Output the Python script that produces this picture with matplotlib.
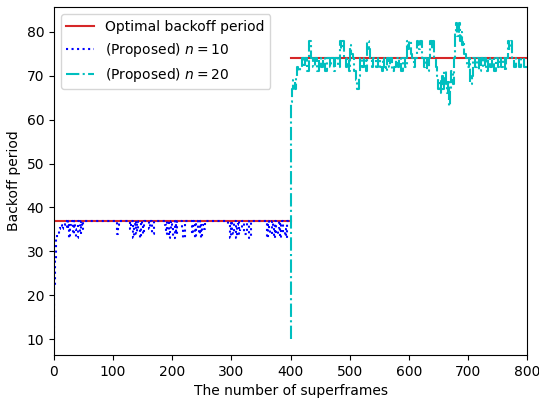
import numpy as np
import matplotlib
matplotlib.use('Agg')
import matplotlib.pyplot as plt

# Optimal backoff period (two phases)
opt_x = [0, 400, np.nan, 400, 800]
opt_y = [37, 37, np.nan, 74, 74]

# (Proposed) n = 10 : change points (superframe, backoff period)
n10_x = [0, 1, 2, 3, 4, 6, 8, 10, 13, 16, 19, 22, 24, 26, 28, 30, 32, 34, 36, 38, 40, 42, 44, 46, 48, 50,
         104, 106, 108, 110,
         129, 131, 133, 135, 137, 139, 141, 143, 145, 147, 149, 151, 153,
         160, 163, 166, 169, 172,
         188, 190, 192, 194, 196, 198, 200, 202, 204, 206, 208,
         216, 219, 222,
         233, 235, 237, 239, 241, 243, 245, 247, 249, 251, 253, 255,
         295, 297, 299, 301, 303, 305, 307, 309, 311, 313, 315, 318,
         322, 326, 330, 334,
         360, 362, 364, 366, 368, 370, 372, 374, 376, 378, 380, 382, 384, 386, 388, 390, 392, 394, 396, 400]
n10_y = [10, 22, 28, 31, 33, 34, 35, 36, 35, 36, 37, 35, 37, 33, 36, 37, 34, 37, 35, 33, 37, 36, 34, 37, 35, 37,
         37, 34, 36, 37,
         35, 37, 33, 36, 37, 34, 37, 35, 33, 37, 36, 34, 37,
         35, 37, 34, 37, 37,
         36, 34, 37, 33, 35, 37, 36, 33, 37, 34, 37,
         35, 33, 37,
         34, 37, 36, 33, 37, 35, 34, 37, 33, 36, 35, 37,
         36, 33, 37, 35, 34, 37, 33, 36, 37, 34, 35, 37,
         34, 37, 33, 37,
         33, 37, 35, 34, 37, 36, 33, 37, 34, 35, 37, 33, 36, 37, 34, 35, 33, 37, 37, 37]

# (Proposed) n = 20 : change points (superframe, backoff period)
n20_x = [400, 401, 403, 405, 407, 409, 411, 413, 416, 419, 422, 425, 428, 431, 432, 434, 435, 438, 441, 445,
         448, 452, 455, 459, 462, 466, 469, 473, 476, 480, 483, 485, 487, 490, 493, 496, 499, 501, 503, 506,
         508, 510, 512, 515, 518, 521, 524, 527, 530, 532, 534, 537, 540, 545, 548, 552, 554, 556, 558, 561,
         563, 566, 569, 572, 575, 578, 581, 584, 587, 590, 593, 597, 599, 601, 603, 605, 608, 611, 614, 616,
         619, 622, 625, 628, 631, 634, 636, 639, 641, 643, 646, 648, 650, 652, 654, 656, 658, 660, 662, 664,
         666, 668, 670, 672, 674, 676, 678, 680, 682, 684, 686, 688, 690, 692, 694, 696, 699, 702, 704, 706,
         709, 712, 716, 719, 722, 725, 728, 731, 734, 737, 740, 744, 747, 750, 753, 756, 759, 762, 765, 768,
         770, 772, 774, 778, 782, 786, 790, 795, 800]
n20_y = [10, 64, 67, 69, 67, 70, 72, 71, 72, 74, 72, 74, 71, 74, 78, 76, 74, 72, 74, 71,
         74, 72, 74, 71, 74, 72, 74, 71, 74, 72, 78, 76, 78, 74, 72, 74, 71, 77, 75, 74,
         71, 69, 67, 70, 74, 72, 74, 71, 78, 76, 74, 72, 74, 72, 74, 72, 71, 74, 72, 71,
         74, 72, 74, 71, 72, 74, 72, 74, 71, 74, 72, 78, 76, 78, 75, 74, 72, 74, 78, 76,
         78, 74, 72, 74, 71, 74, 78, 76, 78, 74, 72, 70, 67, 69, 66, 70, 67, 71, 68, 66,
         69, 63, 67, 71, 68, 74, 80, 82, 79, 82, 78, 80, 77, 78, 75, 74, 72, 74, 68, 70,
         74, 72, 74, 71, 74, 72, 74, 71, 74, 72, 74, 71, 74, 72, 74, 72, 74, 71, 74, 78,
         76, 78, 74, 72, 74, 72, 74, 72, 72]

fig = plt.figure(figsize=(5.39, 3.98), dpi=100)
ax = fig.add_axes([0.100, 0.108, 0.878, 0.874])

ax.plot(opt_x, opt_y, color='#d62728', linewidth=1.5, label='Optimal backoff period')
ax.plot(n10_x, n10_y, color='b', linestyle=':', linewidth=1.5, drawstyle='steps-post',
        label='(Proposed) $n=10$')
ax.plot(n20_x, n20_y, color='c', linestyle='-.', linewidth=1.5, drawstyle='steps-post',
        label='(Proposed) $n=20$')

ax.set_xlim(0, 800)
ax.set_ylim(6.4, 85.6)
ax.set_xticks(range(0, 801, 100))
ax.set_yticks(range(10, 81, 10))
ax.set_xlabel('The number of superframes')
ax.set_ylabel('Backoff period')
ax.legend(loc='upper left')

fig.savefig('out.png', dpi=100)
